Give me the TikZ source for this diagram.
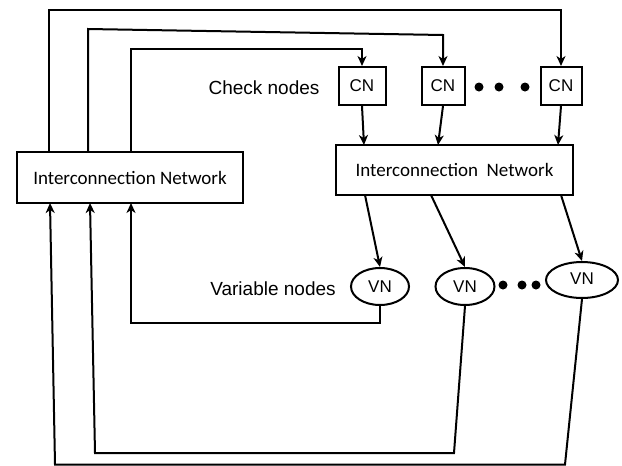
\documentclass[tikz,border=0pt]{standalone}
\usepackage{fontspec}
\setmainfont{Liberation Sans}
\newfontfamily\boxfont{Carlito}
\usetikzlibrary{arrows.meta,shapes.geometric}
\begin{document}
\begin{tikzpicture}[x=1pt,y=-1pt,
  line width=2pt,
  arr/.style={-{Stealth[length=10pt,width=9pt,inset=3pt]}},
  netbox/.style={draw,rectangle,inner sep=0pt,font=\boxfont\fontsize{19}{22}\selectfont},
  cnbox/.style={draw,rectangle,inner sep=0pt,minimum height=38pt,font=\fontsize{17}{20}\selectfont},
  vnell/.style={draw,ellipse,inner sep=0pt,font=\fontsize{17}{20}\selectfont},
  lbl/.style={font=\fontsize{19}{22}\selectfont},
  dotc/.style={fill=black,draw=none,circle,minimum size=9pt,inner sep=0pt}]
\useasboundingbox (0,0) rectangle (622,466);

% networks
\node[netbox,minimum width=226pt,minimum height=51pt] (LIN) at (130,177.5) {Interconnection Network};
\node[netbox,minimum width=237pt,minimum height=50pt] (RIN) at (454.5,170) {Interconnection\ \ Network};

% check nodes
\node[cnbox,minimum width=47pt] (CN1) at (362,86) {CN};
\node[cnbox,minimum width=43pt] (CN2) at (443,86) {CN};
\node[cnbox,minimum width=41pt] (CN3) at (561,86) {CN};
\node[lbl] (chk) at (264,88) {Check nodes};
\node[dotc] (d1) at (479,87) {};
\node[dotc] (d2) at (499,87) {};
\node[dotc] (d3) at (525,87) {};

% variable nodes
\node[vnell,minimum width=58pt,minimum height=37pt] (VN1) at (380,286.5) {VN};
\node[vnell,minimum width=59pt,minimum height=37pt] (VN2) at (465,286.5) {VN};
\node[vnell,minimum width=72pt,minimum height=36pt] (VN3) at (582,280) {\raisebox{2pt}{VN}};
\node[lbl] (var) at (273,289) {Variable nodes};
\node[dotc] (e1) at (503,285) {};
\node[dotc] (e2) at (522,285) {};
\node[dotc] (e3) at (536,285) {};

% coordinates on box edges
\coordinate (lt1) at (49,152);
\coordinate (lt2) at (88,152);
\coordinate (lt3) at (131,152);
\coordinate (lb1) at (50,203);
\coordinate (lb2) at (90,203);
\coordinate (lb3) at (131,203);
\coordinate (rt1) at (364,145);
\coordinate (rt2) at (438,145);
\coordinate (rt3) at (558,145);
\coordinate (rb1) at (365,195);
\coordinate (rb2) at (431,195);
\coordinate (rb3) at (561,195);

% top feedback to check nodes
\draw[arr] (lt1) -- (49,10) -- (561,10) -- (CN3.north);
\draw[arr] (lt2) -- (88,29) -- (443,35) -- (CN2.north);
\draw[arr] (lt3) -- (131,49) -- (362,49) -- (CN1.north);

% check nodes to right network
\draw[arr] (CN1.south) -- (rt1);
\draw[arr] (CN2.south) -- (rt2);
\draw[arr] (CN3.south) -- (rt3);

% right network to variable nodes
\draw[arr] (rb1) -- (VN1.north);
\draw[arr] (rb2) -- (VN2.north);
\draw[arr] (rb3) -- (VN3.north);

% bottom feedback to left network
\draw[arr] (VN1.south) -- (380,323) -- (131,323) -- (lb3);
\draw[arr] (VN2.south) -- (454,453) -- (95,453) -- (lb2);
\draw[arr] (VN3.south) -- (565,464.5) -- (55,464.5) -- (lb1);
\end{tikzpicture}
\end{document}
